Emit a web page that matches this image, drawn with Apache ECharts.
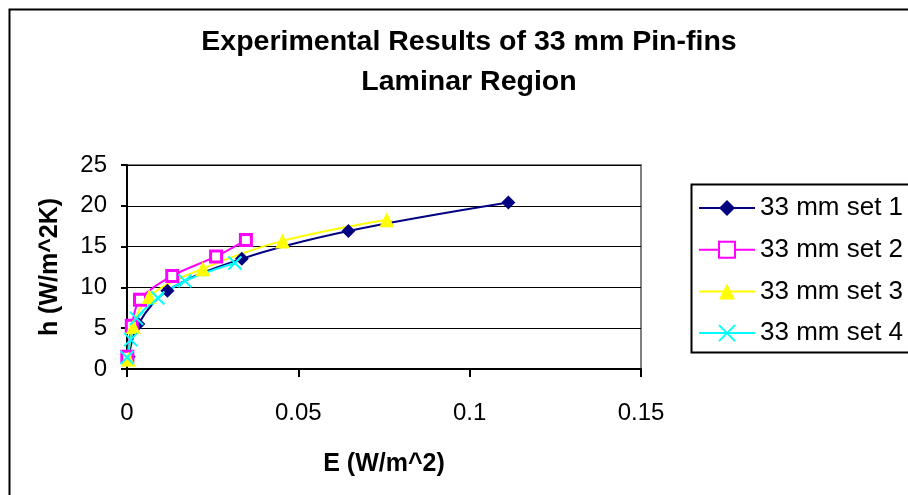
<!DOCTYPE html>
<html>
<head>
<meta charset="utf-8">
<script src="https://cdn.jsdelivr.net/npm/echarts@6/dist/echarts.min.js"></script>
<style>html,body{margin:0;padding:0;background:#fff;}#c{width:908px;height:495px;}</style>
</head>
<body>
<div id="c"></div>
<script>
const seriesNames = ['33 mm set 1', '33 mm set 2', '33 mm set 3', '33 mm set 4'];
const set1X = [0.0005, 0.0033, 0.0118, 0.0335, 0.0646, 0.1113];
const set1Y = [1.5, 5.5, 9.6, 13.5, 16.9, 20.4];
const set2X = [0.0001, 0.0014, 0.0038, 0.0132, 0.0260, 0.0347];
const set2Y = [1.5, 5.3, 8.5, 11.4, 13.8, 15.8];
const set3X = [0.0004, 0.0018, 0.0065, 0.0221, 0.0454, 0.0758];
const set3Y = [1.2, 5.2, 8.9, 12.3, 15.7, 18.3];
const set4X = [0.0000, 0.0011, 0.0028, 0.0090, 0.0169, 0.0315];
const set4Y = [1.4, 3.6, 6.2, 8.7, 10.8, 13.0];
const xTicks = [0, 0.05, 0.1, 0.15];
const yTicks = [0, 5, 10, 15, 20, 25];
const titleText = 'Experimental Results of 33 mm Pin-fins\nLaminar Region';
const xName = 'E (W/m^2)';
const yName = 'h (W/m^2K)';

const pairs = (xs, ys) => xs.map((x, i) => [x, ys[i]]);
const FONT = 'Liberation Sans, Arial, sans-serif';

const chart = echarts.init(document.getElementById('c'));
const xPath = 'path://M0,0 L10,10 M10,0 L0,10';
chart.setOption({
  animation: false,
  backgroundColor: '#fff',
  title: {
    text: titleText,
    left: 469, top: 22, textAlign: 'center', padding: 0,
    textStyle: { fontFamily: FONT, fontSize: 28.5, fontWeight: 'bold', color: '#000', lineHeight: 40 }
  },
  graphic: [{
    type: 'rect', left: 7, top: 7, z: -1,
    shape: { x: 0, y: 0, width: 1000, height: 1000 },
    style: { fill: 'none', stroke: '#000', lineWidth: 2 }
  }, {
    type: 'rect', left: 689, top: 182, z: 0,
    shape: { x: 0, y: 0, width: 400, height: 168 },
    style: { fill: 'none', stroke: '#000', lineWidth: 2 }
  }],
  grid: { left: 127, top: 165, width: 514, height: 204, show: true, borderColor: '#808080', borderWidth: 2, backgroundColor: 'transparent' },
  legend: {
    orient: 'vertical', left: 689, top: 183,
    padding: [11, 5, 3, 9],
    borderWidth: 0,
    itemWidth: 56, itemHeight: 20, itemGap: 13.7,
    textStyle: { fontFamily: FONT, fontSize: 26, color: '#000', lineHeight: 28 },
    data: seriesNames
  },
  xAxis: {
    type: 'value', min: xTicks[0], max: xTicks[xTicks.length - 1], interval: 0.05,
    name: xName, nameLocation: 'middle', nameGap: 83,
    nameTextStyle: { fontFamily: FONT, fontSize: 25, fontWeight: 'bold', color: '#000' },
    axisLine: { onZero: false, lineStyle: { color: '#000', width: 2 } },
    axisTick: { show: true, length: 8, lineStyle: { color: '#000', width: 2 } },
    axisLabel: { fontFamily: FONT, fontSize: 24, color: '#000', margin: 32 },
    splitLine: { show: false }
  },
  yAxis: {
    type: 'value', min: yTicks[0], max: yTicks[yTicks.length - 1], interval: 5,
    name: yName, nameLocation: 'middle', nameGap: 64,
    nameTextStyle: { fontFamily: FONT, fontSize: 25, fontWeight: 'bold', color: '#000' },
    axisLine: { show: true, onZero: false, lineStyle: { color: '#000', width: 2 } },
    axisTick: { show: true, length: 6, lineStyle: { color: '#000', width: 2 } },
    axisLabel: { fontFamily: FONT, fontSize: 24, color: '#000', margin: 20 },
    splitLine: { show: true, lineStyle: { color: '#000', width: 1 } }
  },
  series: [
    { name: seriesNames[0], type: 'line', smooth: 0.35, data: pairs(set1X, set1Y),
      symbol: 'diamond', symbolSize: 14,
      lineStyle: { color: '#000080', width: 2 }, itemStyle: { color: '#000080' } },
    { name: seriesNames[1], type: 'line', smooth: 0.35, data: pairs(set2X, set2Y),
      symbol: 'rect', symbolSize: 11,
      lineStyle: { color: '#FF00FF', width: 2 }, itemStyle: { color: '#FFFFFF', borderColor: '#FF00FF', borderWidth: 3 } },
    { name: seriesNames[2], type: 'line', smooth: 0.35, data: pairs(set3X, set3Y),
      symbol: 'triangle', symbolSize: 15,
      lineStyle: { color: '#FFFF00', width: 2 }, itemStyle: { color: '#FFFF00' } },
    { name: seriesNames[3], type: 'line', smooth: 0.35, data: pairs(set4X, set4Y),
      symbol: xPath, symbolSize: 13,
      lineStyle: { color: '#00FFFF', width: 2 }, itemStyle: { color: 'rgba(0,0,0,0)', borderColor: '#00FFFF', borderWidth: 2 } }
  ]
});
</script>
</body>
</html>
